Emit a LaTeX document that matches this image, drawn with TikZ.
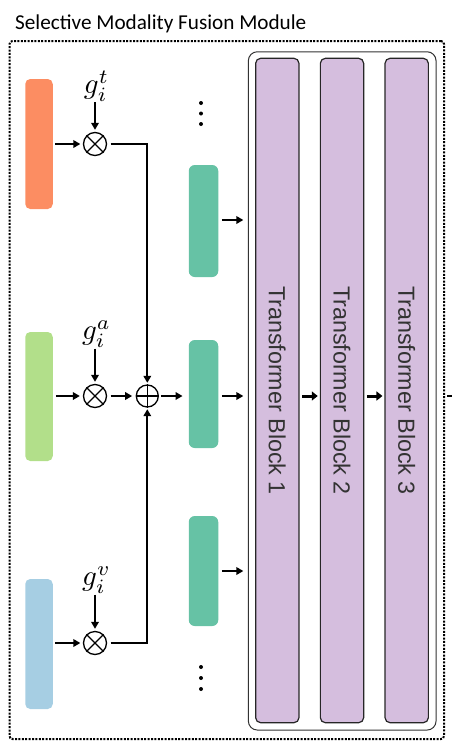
\documentclass[tikz,border=0pt]{standalone}
\usepackage{fontspec}
\usepackage{graphicx}
\setmainfont{Carlito}
\newfontfamily\blockfont{Liberation Sans}
\usetikzlibrary{arrows.meta,calc}
\definecolor{cOrange}{HTML}{FC8D62}
\definecolor{cGreen}{HTML}{B2DF8A}
\definecolor{cBlue}{HTML}{A6CEE3}
\definecolor{cTeal}{HTML}{66C2A5}
\definecolor{cPurple}{HTML}{D5BEDE}
\begin{document}
\begin{tikzpicture}[x=1pt,y=-1pt,
  bar/.style={rectangle, rounded corners=5pt, minimum width=27.5pt, inner sep=0pt, draw=none},
  tbar/.style={rectangle, rounded corners=6pt, minimum width=29.5pt, inner sep=0pt, draw=none, fill=cTeal},
  op/.style={circle, draw, line width=1.3pt, minimum size=23pt, inner sep=0pt},
  arr/.style={line width=1.8pt, -{Triangle[length=7pt,width=7.5pt]}},
  arrb/.style={line width=3pt, -{Triangle[length=6pt,width=9pt]}},
  wire/.style={line width=1.8pt},
  blk/.style={rectangle, rounded corners=5pt, draw=black!85, line width=1.2pt, fill=cPurple,
     minimum width=43.3pt, minimum height=664.4pt, inner sep=0pt},
  blktext/.style={font=\blockfont\fontsize{23.3}{27}\selectfont, text=black!80, rotate=-90},
  gate/.style={inner sep=1pt},
  dotsty/.style={fill=black}
]
\clip (0,0) rectangle (452,748);
\useasboundingbox (0,0) rectangle (452,748);

% title and outer dotted frame
\node[anchor=base west, inner sep=0pt, font=\fontsize{21.2}{25}\selectfont] (title) at (15,29.3) {Selective Modality Fusion Module};
\node[draw, line width=2pt, dash pattern=on 2pt off 1.4pt, rounded corners=3pt,
      minimum width=434.5pt, minimum height=698pt, inner sep=0pt] (outer) at (226.75,390) {};

% transformer frame and blocks
\node[draw=black!80, line width=1pt, rounded corners=9pt, minimum width=187.7pt, minimum height=678.3pt, inner sep=0pt] (frame) at (342.2,390.9) {};
\node[blk] (b1) at (277.3,390.5) {};
\node[blk] (b2) at (342.0,390.5) {};
\node[blk] (b3) at (406.7,390.5) {};
\node[blktext] (l1) at (b1) {Transformer Block 1};
\node[blktext] (l2) at (b2) {Transformer Block 2};
\node[blktext] (l3) at (b3) {Transformer Block 3};

\coordinate (ay) at (0,396);
\draw[arrb, shorten <=2.5pt, shorten >=2pt] (b1.east |- ay) -- (b2.west |- ay);
\draw[arrb, shorten <=2.5pt, shorten >=2pt] (b2.east |- ay) -- (b3.west |- ay);
\coordinate (out) at (458,396);
\draw[line width=1.6pt, shorten <=2pt] (outer.east |- ay) -- (out);

% modality bars
\node[bar, fill=cOrange, minimum height=130pt] (t) at (39,144) {};
\node[bar, fill=cGreen, minimum height=129pt] (a) at (39,396.5) {};
\node[bar, fill=cBlue, minimum height=130pt] (v) at (39,644) {};

% gating operators
\node[op] (m1) at (95,144) {};
\node[op] (m2) at (95,396) {};
\node[op] (m3) at (95,643) {};
\foreach \m in {m1,m2,m3}{
  \draw[line width=1.3pt] (\m.north west) -- (\m.south east);
  \draw[line width=1.3pt] (\m.north east) -- (\m.south west);
}
\node[op, minimum size=22pt] (p) at (147.3,396) {};
\draw[line width=1.3pt] (p.north) -- (p.south);
\draw[line width=1.3pt] (p.west) -- (p.east);

% gate labels
\node[gate] (gt) at (96.5,86) {\scalebox{2.9}{$g_i^t$}};
\node[gate] (ga) at (96.5,334) {\scalebox{2.9}{$g_i^a$}};
\node[gate] (gv) at (96.5,580) {\scalebox{2.9}{$g_i^v$}};
\draw[arr, shorten >=2pt] (gt.south -| m1) -- (m1.north);
\draw[arr, shorten >=2pt] (ga.south -| m2) -- (m2.north);
\draw[arr, shorten >=2pt] (gv.south -| m3) -- (m3.north);

\draw[arr, shorten <=2.5pt, shorten >=2.5pt] (t.east |- m1) -- (m1.west);
\draw[arr, shorten <=3pt, shorten >=3pt] (a.east |- m2) -- (m2.west);
\draw[arr, shorten <=2.5pt, shorten >=2.5pt] (v.east |- m3) -- (m3.west);

\draw[arr, shorten <=3.5pt, shorten >=1.5pt] (m1.east) -| (p.north);
\draw[arr, shorten <=3.5pt, shorten >=1.5pt] (m3.east) -| (p.south);
\draw[arr, shorten <=3.5pt, shorten >=3.5pt] (m2.east) -- (p.west);

% fused tokens
\node[tbar, minimum height=112pt] (f1) at (203.5,221) {};
\node[tbar, minimum height=108pt] (f2) at (203.5,394) {};
\node[tbar, minimum height=110pt] (f3) at (203.5,571) {};
\draw[arr, shorten <=2pt, shorten >=6pt] (p.east) -- (f2.west |- p);
\draw[arr, shorten <=3.5pt, shorten >=4.5pt] (f1.east |- 0,220) -- (frame.west |- 0,220);
\draw[arr, shorten <=3.5pt, shorten >=4.5pt] (f2.east |- ay) -- (frame.west |- ay);
\draw[arr, shorten <=3.5pt, shorten >=4.5pt] (f3.east |- 0,571) -- (frame.west |- 0,571);

% ellipsis dots
\foreach \y in {103,113.5,124,667,678,689}{
  \fill[dotsty] (201,\y) circle (2pt);
}
\end{tikzpicture}
\end{document}
